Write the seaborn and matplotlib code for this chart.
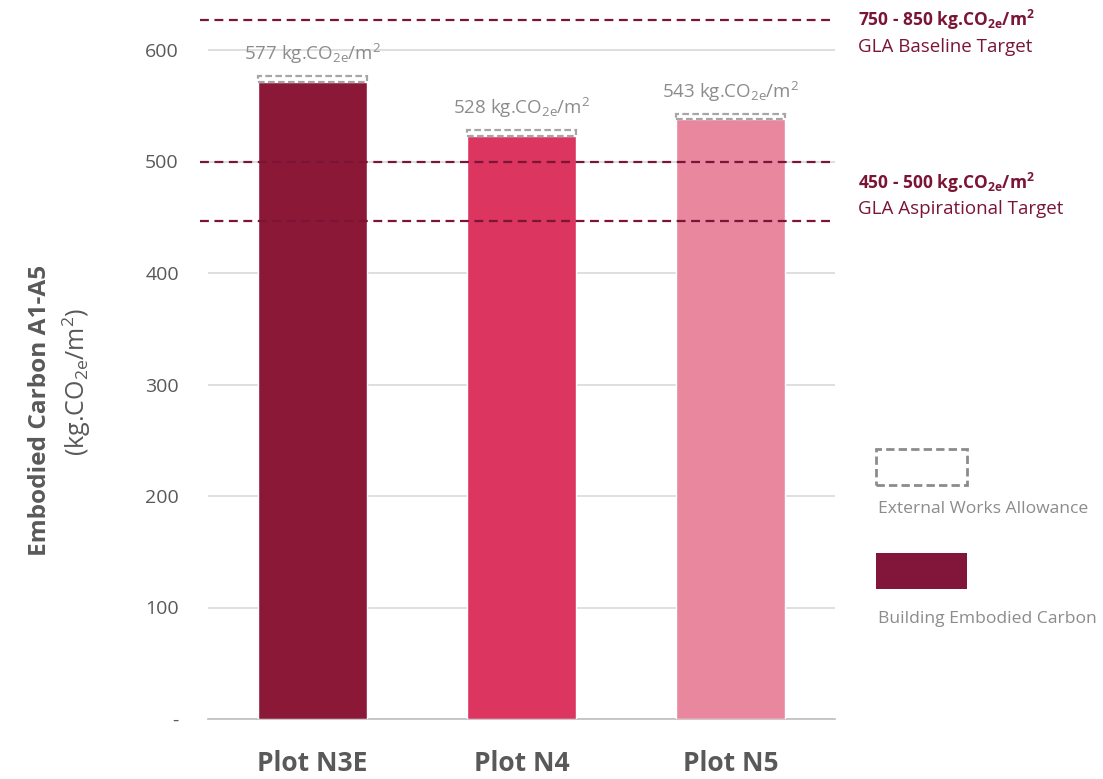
import matplotlib
matplotlib.use("Agg")
import matplotlib.pyplot as plt
import seaborn as sns
import pandas as pd
from matplotlib.patches import Rectangle

# ---- data ----
plots = ["Plot N3E", "Plot N4", "Plot N5"]
building = [571, 523, 538]
external = [6, 5, 5]
totals = [577, 528, 543]
bar_colors = ["#8C1838", "#DB3560", "#E9879F"]
target_lines = [627, 500, 447]
yticks = [0, 100, 200, 300, 400, 500, 600]
ytick_labels = ["-", "100", "200", "300", "400", "500", "600"]

sns.set_theme(style="white")
plt.rcParams["font.family"] = ["Open Sans", "DejaVu Sans"]
plt.rcParams["mathtext.default"] = "regular"

fig = plt.figure(figsize=(11.03, 7.79), dpi=100)
ax = fig.add_axes([208/1103, 1-719/779, (835-208)/1103, (719-10)/779])

df = pd.DataFrame({"plot": plots, "building": building})
sns.barplot(data=df, x="plot", y="building", hue="plot", palette=bar_colors,
            width=0.526, legend=False, ax=ax, zorder=3, saturation=1)

# external works allowance (dashed, unfilled)
ax.bar(range(len(plots)), external, bottom=building, width=0.526, fill=False,
       edgecolor="#A6A6A6", linestyle=(0, (3, 1.5)), linewidth=1.6, zorder=4)

ax.set_xlim(-0.5, 2.5)
ax.set_ylim(0, (719-10)/1.115)
ax.set_yticks(yticks)
ax.set_yticklabels(ytick_labels)
ax.yaxis.grid(True, color="#D9D9D9", linewidth=1.2, zorder=0)
ax.set_axisbelow(True)
for s in ["top", "right", "left"]:
    ax.spines[s].set_visible(False)
ax.spines["bottom"].set_color("#BFBFBF")
ax.spines["bottom"].set_linewidth(1.2)
ax.tick_params(axis="y", length=0, labelsize=14, labelcolor="#595959", pad=21)
ax.tick_params(axis="x", length=0, labelsize=19, labelcolor="#595959", pad=22)
for t in ax.get_xticklabels():
    t.set_fontweight("bold")
ax.set_xlabel("")
ax.set_ylabel("")

# value labels
for i, tot in enumerate(totals):
    ax.text(i, tot + 9, f"{tot} kg.CO$_{{2e}}$/m$^{{2}}$", ha="center", va="bottom",
            fontsize=13.5, color="#8C8C8C", zorder=5)

# target lines
for yv in target_lines:
    ax.axhline(yv, color="#7B1535", linestyle=(0, (4, 2.5)), linewidth=1.6, zorder=5,
               xmin=-0.012, clip_on=False)

tc = "#7B1535"
fig.text(858/1103, 1-20/779, "750 - 850 kg.CO$_{2e}$/m$^{2}$", fontsize=12.5,
         fontweight="bold", color=tc, va="center", ha="left")
fig.text(858/1103, 1-47/779, "GLA Baseline Target", fontsize=13.5,
         color=tc, va="center", ha="left")
fig.text(858/1103, 1-183/779, "450 - 500 kg.CO$_{2e}$/m$^{2}$", fontsize=12.5,
         fontweight="bold", color=tc, va="center", ha="left")
fig.text(858/1103, 1-209/779, "GLA Aspirational Target", fontsize=13.5,
         color=tc, va="center", ha="left")

# legend
fig.patches.append(Rectangle((876/1103, 1-485/779), 91/1103, 36/779, fill=False,
                             edgecolor="#8C8C8C", linestyle=(0, (3, 1.5)), linewidth=2,
                             transform=fig.transFigure, figure=fig))
fig.text(878/1103, 1-509/779, "External Works Allowance", fontsize=12.6,
         color="#8C8C8C", va="center", ha="left")
fig.patches.append(Rectangle((876/1103, 1-589/779), 91/1103, 36/779,
                             facecolor="#82163A", edgecolor="none",
                             transform=fig.transFigure, figure=fig))
fig.text(878/1103, 1-619/779, "Building Embodied Carbon", fontsize=12.6,
         color="#8C8C8C", va="center", ha="left")

# y-axis title
fig.text(40/1103, 1-410/779, "Embodied Carbon A1-A5", rotation=90, fontsize=17.6,
         fontweight="bold", color="#595959", va="center", ha="center")
fig.text(77/1103, 1-382/779, "(kg.CO$_{2e}$/m$^{2}$)", rotation=90, fontsize=18,
         color="#595959", va="center", ha="center")

fig.savefig("out.png", dpi=100)
